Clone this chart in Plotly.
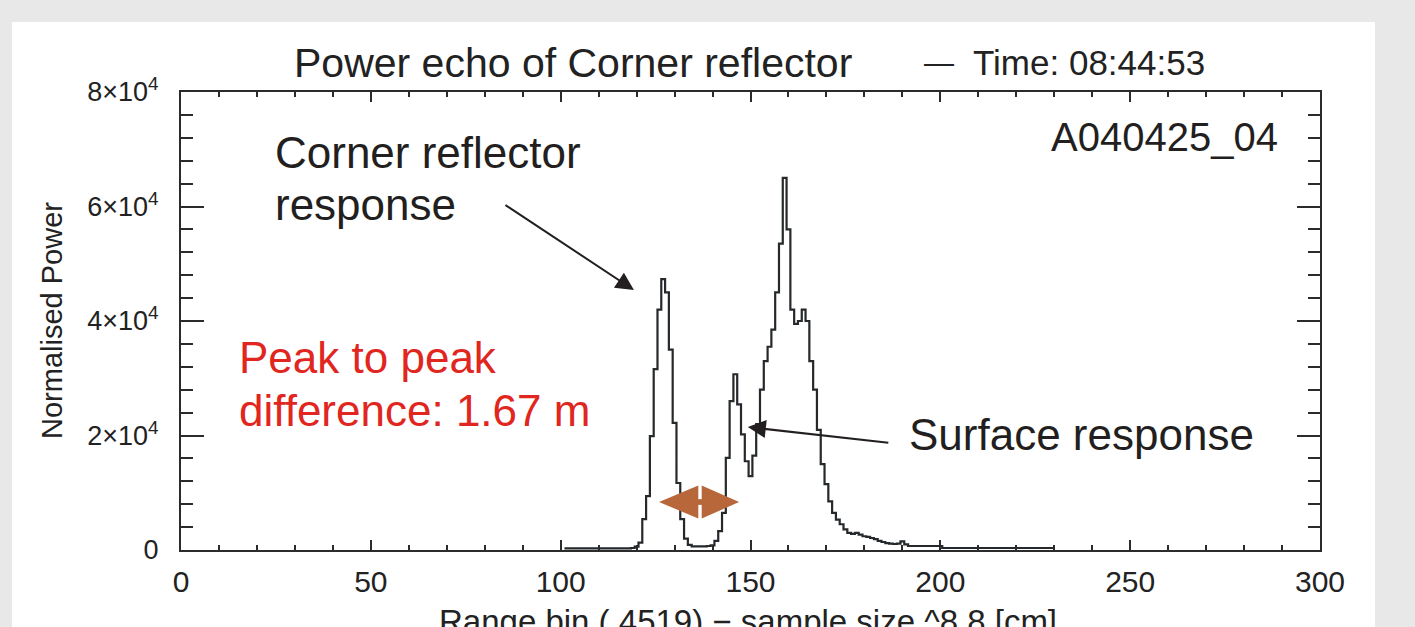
import plotly.graph_objects as go

# ---------------- data ----------------
range_bins = list(range(101, 231))
power = (
    [300, 300, 300, 300, 300, 300, 300, 300, 300, 300,
     300, 300, 300, 300, 300, 300, 300, 300]            # 101-118
    + [350, 600, 1300, 5400, 9400, 19900, 31600, 42000, 47300, 45000,   # 119-128
       35000, 22200, 11700, 5400, 2000, 900, 650, 650, 650, 650,         # 129-138
       700, 800, 1600, 3300, 6500, 16100, 26000, 30700, 25450, 20200,    # 139-148
       15500, 12900, 16500, 22000, 28000, 33000, 35500, 38500, 45000, 53500,  # 149-158
       65000, 56000, 42000, 39500, 40000, 42000, 40000, 33000, 28000, 21000,  # 159-168
       15000, 11500, 8500, 6500, 5300, 4500, 3600, 3000, 2800, 3000,     # 169-178
       2700, 2400, 2300, 2100, 1900, 1600, 1400, 1200, 1100, 1050,       # 179-188
       1100, 1500, 1000]                                                 # 189-191
    + [700, 700, 700, 700, 700, 700, 700, 700, 700]     # 192-200
    + [350] * 30                                        # 201-230
)

x_tickvals = [0, 50, 100, 150, 200, 250, 300]
x_ticktext = ["0", "50", "100", "150", "200", "250", "300"]
y_tickvals = [0, 20000, 40000, 60000, 80000]
y_ticktext = ["0", "2×10<sup>4</sup>", "4×10<sup>4</sup>", "6×10<sup>4</sup>", "8×10<sup>4</sup>"]

title_left = "Power echo of Corner reflector"
title_dash = "—"
title_right = "Time: 08:44:53"
x_title = "Range bin ( 4519) − sample size ^8.8 [cm]"
y_title = "Normalised Power"
run_id = "A040425_04"

# peak-to-peak marker (data coords): left tip, centre, right tip, y, half height
p2p_x = [125.9, 136.7, 147.0]
p2p_y = 8380
p2p_half = 2880

# ---------------- layout geometry (pixels) ----------------
W, H = 1415, 627
L, R, T, B = 181, 1320, 92, 550
PW, PH = R - L, B - T


def xp(px):
    return (px - L) / PW


def yp(py):
    return (B - py) / PH


ink = "#231f20"
fig = go.Figure()
fig.add_trace(go.Scatter(
    x=range_bins, y=power, mode="lines", line_shape="hvh",
    line=dict(color="#25292b", width=2.2), hoverinfo="skip", showlegend=False,
))

shapes = [
    # white panel
    dict(type="rect", xref="paper", yref="paper", x0=xp(12), x1=xp(1375),
         y0=yp(700), y1=yp(22), fillcolor="white", line_width=0, layer="below"),
]
orange = "#b8673b"
xl, xc, xr = p2p_x
gap = 0.45
shapes += [
    dict(type="path", xref="x", yref="y",
         path=f"M {xl},{p2p_y} L {xc-gap},{p2p_y+p2p_half} L {xc-gap},{p2p_y-p2p_half} Z",
         fillcolor=orange, line_width=0),
    dict(type="path", xref="x", yref="y",
         path=f"M {xr},{p2p_y} L {xc+gap},{p2p_y+p2p_half} L {xc+gap},{p2p_y-p2p_half} Z",
         fillcolor=orange, line_width=0),
    dict(type="rect", xref="x", yref="y", x0=xc-gap-0.1, x1=xc+gap+0.1,
         y0=p2p_y-500, y1=p2p_y+500, fillcolor=orange, line_width=0),
]

ann_font = "Liberation Sans"
annotations = [
    dict(text=title_left, x=xp(292), y=yp(63), xanchor="left", yanchor="middle",
         font=dict(family=ann_font, size=41, color="#222")),
    dict(text=title_dash, x=xp(939), y=yp(63), xanchor="center", yanchor="middle",
         font=dict(family=ann_font, size=30, color="#222")),
    dict(text=title_right, x=xp(1207), y=yp(63), xanchor="right", yanchor="middle",
         font=dict(family=ann_font, size=35, color="#222")),
    dict(text=x_title, x=xp(748), y=yp(601), xanchor="center", yanchor="top",
         font=dict(family=ann_font, size=33, color="#222")),
    dict(text=y_title, x=xp(52), y=yp(321), xanchor="center", yanchor="middle",
         textangle=-90, font=dict(family=ann_font, size=29, color="#222")),
    dict(text="Corner reflector", x=xp(273), y=yp(152), xanchor="left", yanchor="middle",
         font=dict(family=ann_font, size=44, color=ink)),
    dict(text="response", x=xp(273), y=yp(204), xanchor="left", yanchor="middle",
         font=dict(family=ann_font, size=44, color=ink)),
    dict(text="Peak to peak", x=xp(237), y=yp(357), xanchor="left", yanchor="middle",
         font=dict(family=ann_font, size=44, color="#e0261e")),
    dict(text="difference: 1.67 m", x=xp(237), y=yp(410), xanchor="left", yanchor="middle",
         font=dict(family=ann_font, size=44, color="#e0261e")),
    dict(text="Surface response", x=xp(907), y=yp(434), xanchor="left", yanchor="middle",
         font=dict(family=ann_font, size=44, color=ink)),
    dict(text=run_id, x=xp(1280), y=yp(137), xanchor="right", yanchor="middle",
         font=dict(family=ann_font, size=40, color=ink)),
    # arrows
    dict(text="", x=119.3, y=45400, xref="x", yref="y", showarrow=True,
         ax=-130, ay=-86, arrowhead=2, arrowsize=1.8, arrowwidth=2, arrowcolor=ink),
    dict(text="", x=149.3, y=21480, xref="x", yref="y", showarrow=True,
         ax=142, ay=16, arrowhead=2, arrowsize=1.8, arrowwidth=2, arrowcolor=ink),
]
for a in annotations:
    a.setdefault("xref", "paper")
    a.setdefault("yref", "paper")
    a.setdefault("showarrow", False)

axis_common = dict(
    showgrid=False, zeroline=False, showline=True, linecolor="#2b2b2b", linewidth=2,
    mirror="ticks", ticks="inside", tickcolor="#2b2b2b", tickwidth=2,
    tickfont=dict(family=ann_font, color="#222"),
)

fig.update_layout(
    width=W, height=H,
    margin=dict(l=L, r=W - R, t=T, b=H - B),
    paper_bgcolor="#e8e8e8", plot_bgcolor="white",
    shapes=shapes, annotations=annotations, showlegend=False,
    xaxis=dict(**axis_common, range=[0, 300], tickvals=x_tickvals, ticktext=x_ticktext,
               ticklen=10, ticklabelstandoff=4,
               minor=dict(dtick=10, ticks="inside", ticklen=5, tickcolor="#2b2b2b", tickwidth=2)),
    yaxis=dict(**axis_common, range=[0, 80000], tickvals=y_tickvals, ticktext=y_ticktext,
               ticklen=23, ticklabelstandoff=15,
               minor=dict(dtick=4000, ticks="inside", ticklen=12, tickcolor="#2b2b2b", tickwidth=2)),
)
fig.update_xaxes(tickfont_size=30)
fig.update_yaxes(tickfont_size=27)

fig.write_html("out.html", config={"displayModeBar": False},
               post_script="document.body.style.margin='0';")
